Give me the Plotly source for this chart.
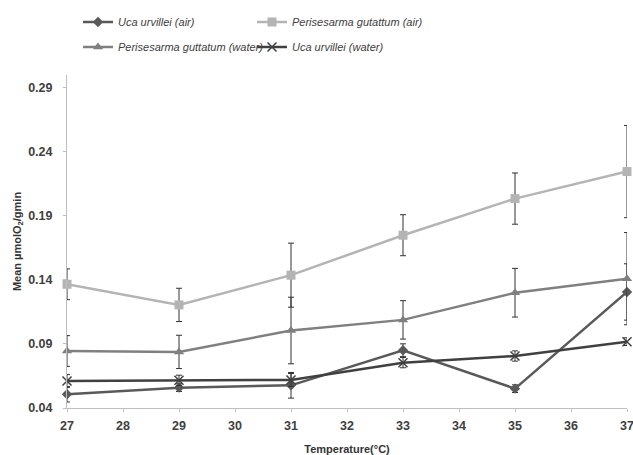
import plotly.graph_objects as go

temps = [27, 29, 31, 33, 35, 37]

uca_air = [0.0507, 0.0559, 0.0577, 0.0851, 0.0551, 0.1306]
uca_air_err = [0.006, 0.003, 0.010, 0.005, 0.003, 0.022]

per_air = [0.1366, 0.1205, 0.1437, 0.1749, 0.2035, 0.2246]
per_air_err = [0.012, 0.013, 0.025, 0.016, 0.020, 0.036]

per_water = [0.0845, 0.0838, 0.1005, 0.1088, 0.1300, 0.1410]
per_water_err = [0.012, 0.013, 0.026, 0.015, 0.019, 0.036]

uca_water = [0.0611, 0.0616, 0.0619, 0.0754, 0.0806, 0.0918]
uca_water_err = [0.005, 0.004, 0.005, 0.004, 0.004, 0.003]

y_ticks = [0.04, 0.09, 0.14, 0.19, 0.24, 0.29]
x_ticks = list(range(27, 38))

names = ["Uca urvillei (air)", "Perisesarma gutattum (air)",
         "Perisesarma guttatum (water)", "Uca urvillei (water)"]

def err(vals):
    return dict(type="data", array=vals, color="#333333", thickness=1, width=3)

fig = go.Figure()
fig.add_trace(go.Scatter(x=temps, y=uca_air, name=f"<i>{names[0]}</i>", mode="lines+markers",
                         line=dict(color="#595959", width=2.5),
                         marker=dict(symbol="diamond", size=8, color="#595959"),
                         error_y=err(uca_air_err), legend="legend", cliponaxis=False))
fig.add_trace(go.Scatter(x=temps, y=per_air, name=f"<i>{names[1]}</i>", mode="lines+markers",
                         line=dict(color="#b4b4b4", width=2.5),
                         marker=dict(symbol="square", size=9, color="#b4b4b4"),
                         error_y=err(per_air_err), legend="legend", cliponaxis=False))
fig.add_trace(go.Scatter(x=temps, y=per_water, name=f"<i>{names[2]}</i>", mode="lines+markers",
                         line=dict(color="#808080", width=2.5),
                         marker=dict(symbol="triangle-up", size=9, color="#808080"),
                         error_y=err(per_water_err), legend="legend2", cliponaxis=False))
fig.add_trace(go.Scatter(x=temps, y=uca_water, name=f"<i>{names[3]}</i>", mode="lines+markers",
                         line=dict(color="#404040", width=2.5),
                         marker=dict(symbol="x-thin", size=9, line=dict(color="#404040", width=1.5)),
                         error_y=err(uca_water_err), legend="legend2", cliponaxis=False))

legend_common = dict(orientation="h", xref="container", yref="container",
                     xanchor="left", yanchor="middle", entrywidth=129,
                     font=dict(family="Liberation Sans", size=11, color="#404040"),
                     bgcolor="rgba(0,0,0,0)", itemclick=False)

fig.update_layout(
    width=633, height=455,
    margin=dict(l=67, r=6, t=75, b=47),
    paper_bgcolor="white", plot_bgcolor="white",
    font=dict(family="Liberation Sans", color="#404040"),
    legend=dict(x=78/633, y=1 - 22/455, **legend_common),
    legend2=dict(x=78/633, y=1 - 47/455, **legend_common),
    xaxis=dict(range=[27, 37], tickvals=x_ticks, ticktext=[f"<b>{t}</b>" for t in x_ticks],
               showgrid=False, zeroline=False, showline=True, linecolor="#bfbfbf",
               linewidth=1, ticks="outside", ticklen=3, tickcolor="#bfbfbf",
               ticklabelstandoff=3, ticklabeloverflow="allow", automargin=False,
               tickfont=dict(size=12.5, color="#404040", family="Liberation Sans"),
               title=dict(text="<b>Temperature(°C)</b>", font=dict(size=11, color="#333333"),
                          standoff=14)),
    yaxis=dict(range=[0.04, 0.30], tickvals=y_ticks, ticktext=[f"<b>{t:.2f}</b>" for t in y_ticks],
               showgrid=False, zeroline=False, showline=True, linecolor="#bfbfbf",
               linewidth=1, ticks="outside", ticklen=3, tickcolor="#bfbfbf",
               ticklabelstandoff=8, ticklabeloverflow="allow", automargin=False,
               tickfont=dict(size=12.5, color="#404040", family="Liberation Sans"),
               title=dict(text="<b>Mean µmolO<sub>2</sub>/gmin</b>", font=dict(size=11, color="#333333"),
                          standoff=4)),
)

fig.write_html("out.html", config={"displayModeBar": False},
               post_script="document.body.style.margin='0';")
